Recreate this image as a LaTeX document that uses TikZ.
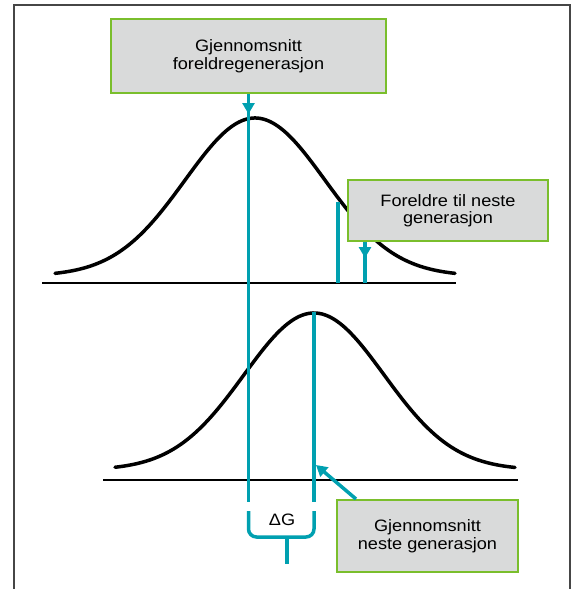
\documentclass[tikz,border=0pt]{standalone}
\usepackage{fontspec}
\setmainfont[FakeStretch=1.1]{Liberation Sans}
\usetikzlibrary{arrows.meta,positioning,calc}
\definecolor{sea}{RGB}{0,160,176}
\definecolor{leaf}{RGB}{122,190,44}
\definecolor{boxgray}{RGB}{217,218,218}
\definecolor{framegray}{RGB}{70,70,70}
\tikzset{note/.style={draw=leaf,line width=2pt,fill=boxgray,align=center,font=\fontsize{16.5}{17.5}\selectfont,inner sep=0pt},meanline/.style={draw=sea,line width=3.5pt},pointer/.style={-{Triangle[length=11pt,width=12pt]},draw=sea,line width=3.5pt},bell/.style={line width=3.5pt,line cap=round},baseln/.style={line width=1.8pt}}

\begin{document}
\begin{tikzpicture}[x=1pt,y=-1pt]
\useasboundingbox (0,0) rectangle (577,589);
\draw[framegray,line width=2pt] (14,589) -- (14,5) -- (570,5) -- (570,589);
% the two generations
\draw[bell] plot[domain=55:455,samples=90,smooth] (\x,{276-158*exp(-0.5*((\x-255)/70)^2)});
\draw[bell] plot[domain=115:515,samples=90,smooth] (\x,{470-157*exp(-0.5*((\x-314)/70)^2)});
\draw[baseln] (42,283) -- (456,283);
\draw[baseln] (103,480) -- (518,480);
% boxes
\node[note,minimum width=275pt,minimum height=74pt] (parent) at (248.5,56) {Gjennomsnitt\\foreldregenerasjon};
\node[note,minimum width=200pt,minimum height=61pt] (chosen) at (448,210.5) {Foreldre til neste\\generasjon};
\node[note,minimum width=181pt,minimum height=72pt] (next) at (427.5,536) {Gjennomsnitt\\neste generasjon};
% mean lines
\coordinate (p1) at (248.5,114);
\coordinate (p2) at (248.5,502);
\coordinate (n1) at (314,312);
\coordinate (n2) at (314,502);
\coordinate (c1) at (338,202);
\coordinate (c2) at (338,283);
\coordinate (k1) at (365,258);
\coordinate (k2) at (365,283);
\coordinate (ntip) at (316,465);
\draw[meanline] (parent.south) -- (p2);
\draw[pointer] (parent.south) -- (p1);
\draw[meanline] (n1) -- (n2);
\draw[meanline] (c1) -- (c2);
\draw[meanline] (chosen.south -| k1) -- (k2);
\draw[pointer] (chosen.south -| k1) -- (k1);
\draw[pointer] ([xshift=20pt]next.north west) -- (ntip);
% difference
\draw[meanline,rounded corners=8pt] (248.5,511) -- (248.5,537) -- (314,537) -- (314,511);
\coordinate (g1) at (287,537);
\coordinate (g2) at (287,564);
\draw[meanline] (g1) -- (g2);
\node[font=\fontsize{16.5}{17.5}\selectfont] (dg) at (282,520) {ΔG};
\end{tikzpicture}
\end{document}
